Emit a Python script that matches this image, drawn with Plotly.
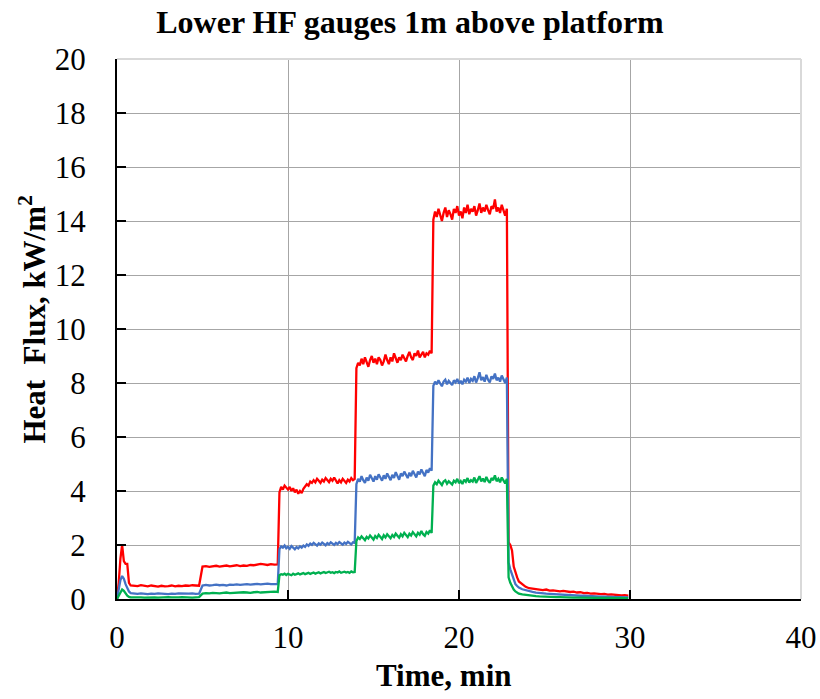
import numpy as np
import plotly.graph_objects as go

# Sample clock (minutes): 0.1 min during ignition and the high-flux stages,
# 0.2 min elsewhere.
minutes = np.concatenate([
    np.arange(0.0, 0.85, 0.1),
    np.arange(1.0, 9.45, 0.2),
    np.arange(9.5, 23.55, 0.1),
    np.arange(23.7, 29.95, 0.2),
]).round(2)

# Heat flux, kW/m^2, for the three lower gauges
hf_red = [
    0.00, 0.60, 1.50, 2.00, 1.40, 1.30, 1.30, 0.60, 0.50,
    0.50, 0.48, 0.51, 0.49, 0.47, 0.50, 0.48, 0.46, 0.49, 0.47,
    0.48, 0.50, 0.47, 0.49, 0.48, 0.50, 0.49, 0.51, 0.50, 0.49,
    1.20, 1.22, 1.19, 1.21, 1.23, 1.20, 1.22, 1.24, 1.21, 1.23,
    1.25, 1.22, 1.24, 1.23, 1.26, 1.25, 1.27, 1.30, 1.28, 1.26,
    1.29, 1.27, 1.28,
    3.95, 4.15, 4.05, 4.20, 4.10, 4.05, 4.15, 4.00, 4.10, 3.95,
    4.05, 3.90, 4.00, 3.92, 4.08, 4.15, 4.25, 4.20, 4.35, 4.30,
    4.40, 4.32, 4.45, 4.38, 4.30, 4.42, 4.35, 4.48, 4.40, 4.33,
    4.45, 4.38, 4.50, 4.36, 4.28, 4.40, 4.32, 4.45, 4.38, 4.30,
    4.42, 4.35, 4.48, 4.40, 4.45,
    8.55, 8.75, 8.65, 8.90, 8.70, 8.95, 8.80, 8.60, 8.85, 9.00,
    8.75, 8.90, 8.70, 8.95, 8.85, 8.65, 8.80, 9.05, 8.85, 8.70,
    8.95, 8.80, 9.10, 8.90, 8.75, 8.95, 8.85, 9.05, 8.90, 8.80,
    9.00, 9.15, 8.95, 8.85, 9.10, 9.00, 9.20, 8.95, 9.05, 9.15,
    8.95, 9.10, 9.05, 9.20, 9.10,
    14.05, 14.35, 14.15, 14.45, 14.20, 14.00, 14.30, 14.50, 14.15, 14.40,
    14.25, 14.05, 14.45, 14.30, 14.55, 14.20, 14.35, 14.10, 14.50, 14.30,
    14.60, 14.25, 14.45, 14.35, 14.55, 14.20, 14.40, 14.65, 14.30, 14.50,
    14.35, 14.60, 14.40, 14.25, 14.55, 14.45, 14.80, 14.35, 14.50, 14.30,
    14.60, 14.40, 14.20, 14.45,
    2.10, 2.00, 1.80, 1.20, 0.95, 0.80, 0.65,
    0.55, 0.45, 0.40, 0.38, 0.36, 0.34, 0.33, 0.35, 0.31, 0.32,
    0.30, 0.28, 0.30, 0.27, 0.26, 0.27, 0.24, 0.25, 0.22, 0.23,
    0.20, 0.21, 0.19, 0.18, 0.19, 0.16, 0.17, 0.15, 0.14, 0.13,
    0.14, 0.12,
]

hf_blue = [
    0.00, 0.30, 0.70, 0.85, 0.75, 0.55, 0.40, 0.28, 0.22,
    0.20, 0.19, 0.21, 0.20, 0.18, 0.20, 0.19, 0.21, 0.20, 0.19,
    0.18, 0.20, 0.19, 0.21, 0.20, 0.19, 0.20, 0.21, 0.19, 0.20,
    0.50, 0.52, 0.50, 0.51, 0.53, 0.51, 0.52, 0.50, 0.53, 0.52,
    0.54, 0.52, 0.53, 0.55, 0.53, 0.54, 0.56, 0.54, 0.55, 0.57,
    0.55, 0.56, 0.55,
    1.85, 1.95, 1.90, 1.98, 1.88, 1.93, 1.86, 1.96, 1.90, 1.84,
    1.92, 1.87, 1.95, 1.90, 1.98, 1.93, 2.02, 1.97, 2.05, 2.00,
    2.08, 2.02, 1.98, 2.06, 2.01, 2.09, 2.03, 1.99, 2.07, 2.02,
    2.10, 2.04, 2.00, 2.08, 2.03, 2.11, 2.05, 2.01, 2.09, 2.04,
    2.12, 2.06, 2.02, 2.10, 2.08,
    4.25, 4.45, 4.35, 4.55, 4.40, 4.30, 4.50, 4.38, 4.60, 4.45,
    4.35, 4.55, 4.42, 4.62, 4.48, 4.38, 4.58, 4.45, 4.65, 4.50,
    4.40, 4.60, 4.48, 4.70, 4.52, 4.42, 4.65, 4.55, 4.72, 4.58,
    4.48, 4.68, 4.55, 4.75, 4.60, 4.50, 4.72, 4.62, 4.80, 4.65,
    4.55, 4.78, 4.68, 4.85, 4.75,
    7.90, 8.05, 7.95, 8.10, 7.98, 7.88, 8.05, 8.12, 7.95, 8.08,
    8.00, 7.92, 8.10, 8.02, 8.15, 7.98, 8.08, 7.95, 8.12, 8.05,
    8.20, 8.00, 8.15, 8.08, 8.25, 8.02, 8.18, 8.40, 8.10, 8.22,
    8.05, 8.30, 8.12, 8.02, 8.25, 8.15, 8.35, 8.10, 8.20, 8.05,
    8.28, 8.15, 8.00, 8.20,
    1.35, 1.10, 0.90, 0.70, 0.55, 0.48, 0.42,
    0.36, 0.32, 0.29, 0.26, 0.24, 0.22, 0.21, 0.20, 0.19, 0.18,
    0.17, 0.16, 0.16, 0.15, 0.14, 0.14, 0.13, 0.12, 0.12, 0.11,
    0.11, 0.10, 0.10, 0.09, 0.09, 0.08, 0.08, 0.08, 0.07, 0.07,
    0.07, 0.06,
]

hf_green = [
    0.00, 0.10, 0.25, 0.35, 0.30, 0.20, 0.12, 0.08, 0.06,
    0.06, 0.07, 0.06, 0.05, 0.06, 0.07, 0.06, 0.05, 0.06, 0.06,
    0.07, 0.06, 0.05, 0.06, 0.07, 0.06, 0.06, 0.05, 0.06, 0.07,
    0.20, 0.22, 0.21, 0.23, 0.22, 0.21, 0.23, 0.24, 0.22, 0.23,
    0.24, 0.23, 0.25, 0.24, 0.23, 0.25, 0.26, 0.24, 0.25, 0.26,
    0.25, 0.27, 0.26,
    0.88, 0.92, 0.90, 0.94, 0.89, 0.93, 0.91, 0.88, 0.94, 0.90,
    0.92, 0.95, 0.91, 0.93, 0.96, 0.92, 0.94, 0.97, 0.93, 0.95,
    0.98, 0.94, 0.96, 0.99, 0.95, 0.97, 1.00, 0.96, 0.98, 1.01,
    0.97, 0.99, 0.96, 1.00, 0.98, 1.02, 0.97, 0.99, 1.01, 0.98,
    1.00, 0.97, 1.02, 0.99, 1.00,
    2.15, 2.28, 2.22, 2.32, 2.25, 2.18, 2.30, 2.24, 2.35, 2.27,
    2.20, 2.33, 2.26, 2.38, 2.29, 2.22, 2.36, 2.28, 2.40, 2.31,
    2.25, 2.37, 2.30, 2.42, 2.33, 2.27, 2.40, 2.32, 2.45, 2.35,
    2.29, 2.42, 2.35, 2.48, 2.38, 2.32, 2.45, 2.38, 2.52, 2.40,
    2.34, 2.48, 2.42, 2.55, 2.45,
    4.20, 4.32, 4.25, 4.38, 4.28, 4.22, 4.35, 4.40, 4.27, 4.36,
    4.30, 4.24, 4.38, 4.32, 4.45, 4.29, 4.37, 4.26, 4.42, 4.34,
    4.48, 4.31, 4.40, 4.35, 4.50, 4.30, 4.42, 4.55, 4.36, 4.46,
    4.33, 4.52, 4.38, 4.30, 4.48, 4.40, 4.58, 4.36, 4.45, 4.32,
    4.50, 4.40, 4.28, 4.45,
    0.80, 0.60, 0.45, 0.35, 0.28, 0.23, 0.20,
    0.17, 0.15, 0.13, 0.12, 0.11, 0.10, 0.09, 0.09, 0.08, 0.08,
    0.07, 0.07, 0.06, 0.06, 0.06, 0.05, 0.05, 0.05, 0.05, 0.04,
    0.04, 0.04, 0.04, 0.04, 0.03, 0.03, 0.03, 0.03, 0.03, 0.03,
    0.03, 0.03,
]

x_ticks = [0, 10, 20, 30, 40]
y_ticks = [0, 2, 4, 6, 8, 10, 12, 14, 16, 18, 20]

assert len(minutes) == len(hf_red) == len(hf_blue) == len(hf_green), (
    len(minutes), len(hf_red), len(hf_blue), len(hf_green))

SERIF = "Liberation Serif, Times New Roman, serif"

fig = go.Figure()
for name, vals, color in [
    ("Gauge 1", hf_red, "#FF0000"),
    ("Gauge 2", hf_blue, "#4472C4"),
    ("Gauge 3", hf_green, "#00B050"),
]:
    fig.add_trace(go.Scatter(
        x=minutes, y=vals, mode="lines", name=name,
        line=dict(color=color, width=2.3),
    ))

axis_common = dict(
    showline=True, linecolor="#000000", linewidth=2,
    ticks="inside", ticklen=9, tickwidth=2, tickcolor="#000000",
    showgrid=True, gridcolor="#a6a6a6", gridwidth=1,
    zeroline=False, automargin=False,
    tickfont=dict(family=SERIF, size=31, color="#000000"),
)

fig.update_xaxes(range=[0, 40], tickvals=x_ticks, ticklabelstandoff=10,
                 **axis_common)
fig.update_yaxes(range=[0, 20], tickvals=y_ticks, ticklabelstandoff=23,
                 **axis_common)

# light frame on the top and right edges of the plot area
fig.add_shape(type="line", xref="paper", yref="paper", x0=0, x1=1, y0=1, y1=1,
              line=dict(color="#d9d9d9", width=2), layer="above")
fig.add_shape(type="line", xref="paper", yref="paper", x0=1, x1=1, y0=0, y1=1,
              line=dict(color="#d9d9d9", width=2), layer="above")

fig.add_annotation(text="<b>Time, min</b>", xref="paper", yref="paper",
                   x=0.478, y=-0.141, xanchor="center", yanchor="middle",
                   showarrow=False,
                   font=dict(family=SERIF, size=31, color="#000000"))
fig.add_annotation(text="<b>Heat\u00a0 Flux, kW/m<sup>2</sup></b>",
                   xref="paper", yref="paper", textangle=-90,
                   x=-0.123, y=0.519, xanchor="center", yanchor="middle",
                   showarrow=False,
                   font=dict(family=SERIF, size=31, color="#000000"))

fig.update_layout(
    width=820, height=699,
    margin=dict(l=117, r=19, t=59, b=100, autoexpand=False),
    paper_bgcolor="#ffffff", plot_bgcolor="#ffffff",
    showlegend=False,
    title=dict(text="<b>Lower HF gauges 1m above platform</b>",
               x=0.5, xref="container", xanchor="center",
               y=1 - 22 / 699, yref="container", yanchor="middle",
               font=dict(family=SERIF, size=32, color="#000000")),
)

fig.write_html("out.html")
